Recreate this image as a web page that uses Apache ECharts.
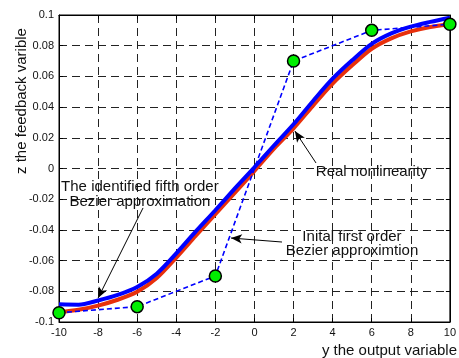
<!DOCTYPE html>
<html>
<head>
<meta charset="utf-8">
<script src="https://cdn.jsdelivr.net/npm/echarts@6/dist/echarts.min.js"></script>
<style>html,body{margin:0;padding:0;background:#fff}#c{width:459px;height:358px}</style>
</head>
<body>
<div id="c"></div>
<script>
var xs = [-10,-9,-8,-7,-6,-5,-4,-3,-2,-1,0,1,2,3,4,5,6,7,8,9,10];
var realNL = [-0.0935,-0.0920,-0.0893,-0.0855,-0.0803,-0.0713,-0.0580,-0.0437,-0.0298,-0.0158,-0.0015,0.0130,0.0262,0.0410,0.0553,0.0672,0.0780,0.0848,0.0893,0.0922,0.0940];
var bezier5 = [-0.0885,-0.0887,-0.0860,-0.0824,-0.0772,-0.0685,-0.0553,-0.0410,-0.0272,-0.0130,0.0008,0.0150,0.0288,0.0440,0.0585,0.0705,0.0812,0.0880,0.0924,0.0955,0.0982];
var ctrlX = [-10,-6,-2,2,6,10];
var ctrlY = [-0.094,-0.090,-0.070,0.070,0.090,0.094];
var xTicks = [-10,-8,-6,-4,-2,0,2,4,6,8,10];
var yTicks = [-0.1,-0.08,-0.06,-0.04,-0.02,0,0.02,0.04,0.06,0.08,0.1];

function pairs(a,b){return a.map(function(v,i){return [v,b[i]];});}

var chart = echarts.init(document.getElementById('c'), null, {renderer:'canvas'});
var FONT = '"Liberation Sans", Arial, sans-serif';
var tickStyle = {show:true, inside:true, length:4, lineStyle:{color:'#000'}};
var axisLineStyle = {show:true, onZero:false, lineStyle:{color:'#000', width:1}};
var arrowLine = {color:'#000', width:1, type:'solid'};

chart.setOption({
  animation:false,
  grid:{left:59, right:9, top:15, bottom:36, show:true, borderColor:'#000', borderWidth:1, backgroundColor:'#fff'},
  xAxis:[{
    type:'value', min:-10, max:10, interval:2,
    axisLine:axisLineStyle, axisTick:tickStyle,
    axisLabel:{color:'#111', fontSize:11, fontFamily:FONT, margin:5},
    splitLine:{show:true, lineStyle:{color:'#222', type:[8,5], width:1}}
  },{
    type:'value', position:'top', min:-10, max:10, interval:2,
    axisLine:axisLineStyle, axisTick:tickStyle, axisLabel:{show:false}, splitLine:{show:false}
  }],
  yAxis:[{
    type:'value', min:-0.1, max:0.1, interval:0.02,
    axisLine:axisLineStyle, axisTick:tickStyle,
    axisLabel:{color:'#111', fontSize:11, fontFamily:FONT, margin:5,
      formatter:function(v){return String(parseFloat(v.toFixed(2)));}},
    splitLine:{show:true, lineStyle:{color:'#222', type:[8,5], width:1}}
  },{
    type:'value', position:'right', min:-0.1, max:0.1, interval:0.02,
    axisLine:axisLineStyle, axisTick:tickStyle, axisLabel:{show:false}, splitLine:{show:false}
  }],
  series:[
    {type:'line', name:'real', data:pairs(xs, realNL), smooth:0.3, showSymbol:false,
     lineStyle:{color:'#e8300c', width:4}, z:3},
    {type:'line', name:'bezier5', data:pairs(xs, bezier5), smooth:0.3, showSymbol:false,
     lineStyle:{color:'#0000ff', width:4}, z:4},
    {type:'line', name:'ctrl', data:pairs(ctrlX, ctrlY), smooth:false,
     symbol:'circle', symbolSize:12, showSymbol:true,
     itemStyle:{color:'#00ee00', borderColor:'#000', borderWidth:1.5},
     lineStyle:{color:'#0000ff', width:1.6, type:[5,3]}, z:5,
     markLine:{silent:true, symbol:['none','arrow'], symbolSize:[7,11], label:{show:false},
       lineStyle:arrowLine,
       data:[
         [{coord:[3.15,0.0036]},{coord:[2.07,0.0244]}],
         [{coord:[-5.70,-0.0257]},{coord:[-8.0,-0.0844]}],
         [{coord:[1.41,-0.0479]},{coord:[-1.20,-0.0453]}]
       ]}
    }
  ]
});

var notes = [
  {x:6.0, y:-0.0025, t:'Real nonlinearity'},
  {x:-5.86, y:-0.0120, t:'The identified fifth order'},
  {x:-5.86, y:-0.0218, t:'Bezier approximation'},
  {x:4.99, y:-0.0446, t:'Inital first order'},
  {x:4.99, y:-0.0537, t:'Bezier approximtion'}
];
var g = notes.map(function(n){
  var p = chart.convertToPixel({xAxisIndex:0, yAxisIndex:0}, [n.x, n.y]);
  return {type:'text', x:p[0], y:p[1], z:10,
    style:{text:n.t, fill:'#111', font:'15px '+FONT, textAlign:'center', textVerticalAlign:'middle'}};
});
g.push({type:'text', x:22, y:101, rotation:Math.PI/2, z:10,
  style:{text:'z the feedback varible', fill:'#111', font:'15px '+FONT, textAlign:'center', textVerticalAlign:'middle'}});
g.push({type:'text', x:457, y:351, z:10,
  style:{text:'y the output variable', fill:'#111', font:'15px '+FONT, textAlign:'right', textVerticalAlign:'middle'}});
chart.setOption({graphic:g});
</script>
</body>
</html>
